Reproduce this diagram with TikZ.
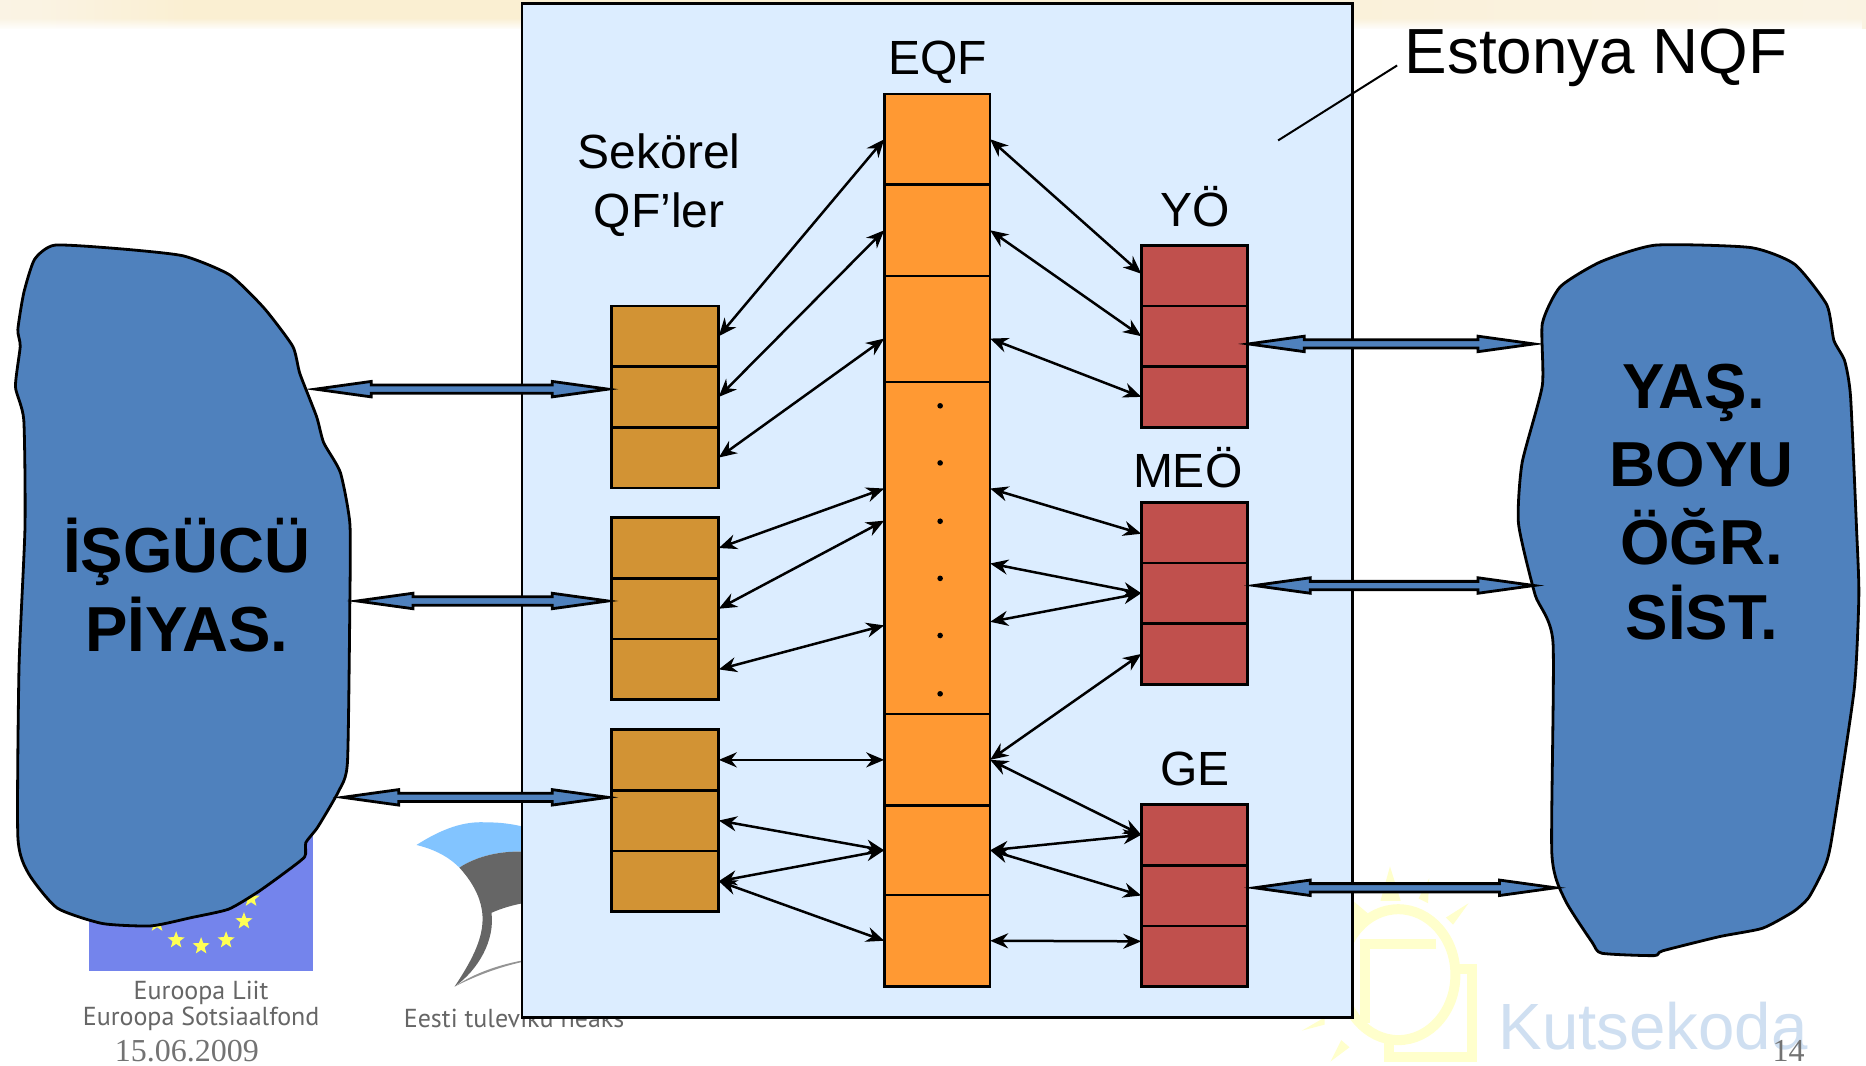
\documentclass[tikz,border=0pt]{standalone}
\usepackage{fontspec}
\setmainfont{Liberation Sans}
\newfontfamily\logofont{PT Sans}
\newfontfamily\serifnum{Liberation Serif}
\usetikzlibrary{arrows.meta,calc,shapes.geometric,fadings}
\definecolor{framefill}{HTML}{DCEDFF}
\definecolor{eqffill}{HTML}{FF9933}
\definecolor{secfill}{HTML}{D29334}
\definecolor{redfill}{HTML}{C0504D}
\definecolor{blobfill}{HTML}{4F81BD}
\definecolor{flagblue}{HTML}{7484EC}
\definecolor{staryellow}{HTML}{FFFF55}
\definecolor{logoblue}{HTML}{82C4FF}
\definecolor{logogrey}{HTML}{666666}
\definecolor{sunyellow}{HTML}{FFFFCC}
\definecolor{kutseblue}{HTML}{CFDFF1}
\definecolor{bandA}{HTML}{FDE9C4}
\definecolor{bandB}{HTML}{FCF3DC}
\definecolor{bandC}{HTML}{FDF3EA}
\definecolor{bandD}{HTML}{FAF3E3}
\definecolor{bandE}{HTML}{FAEFD2}
\definecolor{bandF}{HTML}{FBE8C5}
\pgfdeclarehorizontalshading{bandshade}{100bp}{
  color(0bp)=(bandA);
  color(6bp)=(bandB);
  color(16bp)=(bandC);
  color(26bp)=(bandD);
  color(30bp)=(bandE);
  color(50bp)=(bandE);
  color(74bp)=(bandD);
  color(90bp)=(bandE);
  color(100bp)=(bandF)}
\tikzset{
  x=0.595pt,y=-0.595pt,
  cellS/.style={draw=black,fill=secfill,line width=1.35pt,inner sep=0pt,outer sep=0pt},
  cellE/.style={draw=black,fill=eqffill,line width=1.35pt,inner sep=0pt,outer sep=0pt},
  cellR/.style={draw=black,fill=redfill,line width=1.35pt,inner sep=0pt,outer sep=0pt},
  link/.style={line width=1.25pt,{Stealth[length=9pt,width=7.5pt]}-{Stealth[length=9pt,width=7.5pt]}},
  blob/.style={draw=black,fill=blobfill,line width=1.4pt},
  blockarrow/.style={draw=black,fill=blobfill,line width=1.4pt,miter limit=20},
  lab/.style={font=\fontsize{24}{24}\selectfont,inner sep=0pt},
  bigbold/.style={font=\fontsize{31.8}{32}\selectfont\bfseries,inner sep=0pt,text=black},
  logotext/.style={font=\logofont\fontsize{13}{13}\selectfont,text=logogrey,inner sep=0pt},
  greynum/.style={font=\serifnum\fontsize{16}{16}\selectfont,text=black!55,inner sep=0pt},
  eustar/.style={star,star points=5,star point ratio=2.4,fill=staryellow,inner sep=0pt,minimum size=9pt},
  sunline/.style={draw=sunyellow,line width=5pt},
  sunray/.style={fill=sunyellow},
  eqfdot/.style={circle,fill=black,inner sep=0pt,minimum size=2.8pt}
}
\newcommand{\cellbox}[6]{%
  \pgfmathsetmacro{\cx}{(#3+#5)/2}\pgfmathsetmacro{\cy}{(#4+#6)/2}%
  \pgfmathsetmacro{\cw}{(#5-#3)*0.595}\pgfmathsetmacro{\ch}{(#6-#4)*0.595}%
  \node[#2,minimum width=\cw pt,minimum height=\ch pt] (#1) at (\cx,\cy) {};}
\newcommand{\blockarr}[2]{%
  \path[blockarrow] (#1) -- ($(#1)+(47,-6.5)$) -- ($(#1)+(47,-3.5)$) -- ($(#2)+(-47,-3.5)$) -- ($(#2)+(-47,-6.5)$)
    -- (#2) -- ($(#2)+(-47,6.5)$) -- ($(#2)+(-47,3.5)$) -- ($(#1)+(47,3.5)$) -- ($(#1)+(47,6.5)$) -- cycle;}
\begin{document}
\begin{tikzpicture}
\useasboundingbox (0,0) rectangle (1568,895);
\fill[white] (0,0) rectangle (1568,895);
% top band
\shade[shading=bandshade] (0,0) rectangle (1568,24);
\fill[white,path fading=north] (0,15) rectangle (1568,25);
% EU flag
\fill[flagblue] (75,690) rectangle (263,816);
\node[eustar] at (205,774) {};
\node[eustar] at (190,790) {};
\node[eustar] at (169,795) {};
\node[eustar] at (148,790) {};
\node[eustar] at (132,776) {};
\node[eustar] at (211,755) {};
\node[logotext] at (169,834) {Euroopa Liit};
\node[logotext] at (169,856) {Euroopa Sotsiaalfond};
% Estonian logo
\fill[logoblue] (350,710) .. controls (372,696) and (390,690) .. (408,691) .. controls (420,691) and (430,692) .. (445,696) -- (445,716) .. controls (420,714) and (400,720) .. (386,729) .. controls (375,718) and (362,713) .. (350,710) -- cycle;
\fill[logogrey] (386,729) .. controls (400,720) and (420,714) .. (445,716) -- (445,758) .. controls (432,760) and (422,763) .. (413,767) .. controls (416,790) and (402,815) .. (382,829) .. controls (398,805) and (408,785) .. (405,765) .. controls (403,752) and (396,740) .. (386,729) -- cycle;
\fill[logogrey!70] (382,829) .. controls (398,818) and (420,810) .. (445,806) -- (445,807) .. controls (420,812) and (400,820) .. (382,829) -- cycle;
\node[logotext] at (432,856) {Eesti tuleviku heaks};
% Kutsekoda logo
\draw[sunline] (1175,819) ellipse [x radius=48,y radius=55];
\draw[sunline] (1207,793) -- (1147,793) -- (1147,860);
\draw[sunline] (1167,873) -- (1167,888) -- (1237,888) -- (1237,814) -- (1222,814);
\fill[sunray] (1168,728) -- (1160,757) -- (1177,757) -- cycle;
\fill[sunray] (1201,738) -- (1192,755) -- (1200,759) -- cycle;
\fill[sunray] (1234,759) -- (1215,771) -- (1221,777) -- cycle;
\fill[sunray] (1118,892) -- (1127,874) -- (1134,880) -- cycle;
\fill[sunray] (1094,866) -- (1113,855) -- (1113,861) -- cycle;
\fill[sunray] (1137,757) -- (1150,768) -- (1137,778) -- cycle;
\node[font=\fontsize{32.7}{33}\selectfont,text=kutseblue,inner sep=0pt] at (1389,862) {Kutsekoda};
\node[greynum] at (157,883) {15.06.2009};
\node[greynum] at (1503,883) {14};
% frame
\node[draw=black,fill=framefill,line width=1.35pt,inner sep=0pt,outer sep=0pt,minimum width=415.3pt,minimum height=506.9pt] (frame) at (787.5,429) {};
% sectoral cells
\cellbox{s1a}{cellS}{514}{257}{604}{308}
\cellbox{s1b}{cellS}{514}{308}{604}{359}
\cellbox{s1c}{cellS}{514}{359}{604}{410}
\cellbox{s2a}{cellS}{514}{435}{604}{486}
\cellbox{s2b}{cellS}{514}{486}{604}{537}
\cellbox{s2c}{cellS}{514}{537}{604}{588}
\cellbox{s3a}{cellS}{514}{613}{604}{664}
\cellbox{s3b}{cellS}{514}{664}{604}{715}
\cellbox{s3c}{cellS}{514}{715}{604}{766}
% EQF cells
\cellbox{e1}{cellE}{743}{79}{832}{155}
\cellbox{e2}{cellE}{743}{155}{832}{232}
\cellbox{e3}{cellE}{743}{232}{832}{321}
\cellbox{e4}{cellE}{743}{321}{832}{600}
\cellbox{e5}{cellE}{743}{600}{832}{677}
\cellbox{e6}{cellE}{743}{677}{832}{752}
\cellbox{e7}{cellE}{743}{752}{832}{829}
\foreach \yy in {341,389,438,486,534,583} \node[eqfdot] at (790,\yy) {};
% red cells
\cellbox{y1}{cellR}{959}{206}{1048}{257}
\cellbox{y2}{cellR}{959}{257}{1048}{308}
\cellbox{y3}{cellR}{959}{308}{1048}{359}
\cellbox{m1}{cellR}{959}{422}{1048}{473}
\cellbox{m2}{cellR}{959}{473}{1048}{524}
\cellbox{m3}{cellR}{959}{524}{1048}{575}
\cellbox{g1}{cellR}{959}{676}{1048}{727}
\cellbox{g2}{cellR}{959}{727}{1048}{778}
\cellbox{g3}{cellR}{959}{778}{1048}{829}
% labels
\node[lab] (leqf) at (788,52) {EQF};
\node[lab] (lsec1) at (554,127) {Sekörel};
\node[lab] (lsec2) at (554,180) {QF’ler};
\node[lab] (lyo) at (1004,174) {YÖ};
\node[lab] (lmeo) at (998,393) {MEÖ};
\node[lab] (lge) at (1004,646) {GE};
\node[font=\fontsize{31.9}{32}\selectfont,inner sep=0pt,anchor=west] (lnqf) at (1180,49) {Estonya NQF};
\coordinate (nqfin) at (1074,118);
\draw[line width=1pt] (lnqf.west |- 0,55) ++(-6,0) -- (nqfin);
% links sectoral - EQF
\draw[link] (s1a.east) -- (e1.west);
\draw[link] (s1b.east) -- (e2.west);
\draw[link] (s1c.east) -- ([shift={(0,8)}]e3.west);
\draw[link] (s2a.east) -- ([shift={(0,-50)}]e4.west);
\draw[link] (s2b.east) -- ([shift={(0,-23)}]e4.west);
\draw[link] (s2c.east) -- ([shift={(0,65)}]e4.west);
\draw[link] (s3a.east) -- (e5.west);
\draw[link] (s3b.east) -- (e6.west);
\draw[link] (s3c.east) -- (e6.west);
\draw[link] (s3c.east) -- (e7.west);
% links EQF - red
\draw[link] (e1.east) -- ([shift={(0,-1.5)}]y1.west);
\draw[link] (e2.east) -- (y2.west);
\draw[link] ([shift={(0,8)}]e3.east) -- (y3.west);
\draw[link] ([shift={(0,-50)}]e4.east) -- ([shift={(0,1)}]m1.west);
\draw[link] ([shift={(0,13)}]e4.east) -- (m2.west);
\draw[link] ([shift={(0,62)}]e4.east) -- (m2.west);
\draw[link] (e5.east) -- (m3.west);
\draw[link] (e5.east) -- (g1.west);
\draw[link] (e6.east) -- (g1.west);
\draw[link] (e6.east) -- (g2.west);
\draw[link] (e7.east) -- ([shift={(0,-12.5)}]g3.west);
% blobs
\draw[blob] plot[smooth cycle,tension=0.35] coordinates {(46,206) (100,209) (154,215) (193,231) (222,259) (246,291) (252,314) (266,350) (272,372) (286,397) (294,440) (294,505) (292,640) (285,664) (267,695) (257,708) (256,720) (237,735) (216,750) (192,764) (161,771) (127,778) (86,776) (48,763) (24,734) (15,703) (16,560) (21,443) (20,353) (13,325) (17,291) (15,277) (20,246) (29,218)};
\draw[blob] plot[smooth cycle,tension=0.35] coordinates {(1391,206) (1471,208) (1508,222) (1535,256) (1541,286) (1550,303) (1555,333) (1560,443) (1562,500) (1558,580) (1539,706) (1533,729) (1520,754) (1507,766) (1481,780) (1445,787) (1397,799) (1390,803) (1346,801) (1338,792) (1315,756) (1304,717) (1305,540) (1290,500) (1276,440) (1279,389) (1296,324) (1296,272) (1311,241) (1345,220)};
\node[bigbold] (lab1) at (157,464) {İŞGÜCÜ};
\node[bigbold] (lab2) at (157,525) {PİYAS.};
\node[bigbold] (rb1) at (1423,330) {YAŞ.};
\node[bigbold] (rb2) at (1430,390) {BOYU};
\node[bigbold] (rb3) at (1430,451) {ÖĞR.};
\node[bigbold] (rb4) at (1430,515) {SİST.};
% block arrows
\coordinate (lbA) at (265,327); \coordinate (lbB) at (300,505); \coordinate (lbC) at (288,670);
\coordinate (s1p) at (511,327); \coordinate (s2p) at (511,505); \coordinate (s3p) at (511,670);
\coordinate (y2p) at (1049,289); \coordinate (m2p) at (1054,492); \coordinate (g2p) at (1054,746);
\coordinate (rbA) at (1289,289); \coordinate (rbB) at (1289,492); \coordinate (rbC) at (1307,746);
\blockarr{lbA}{s1p}
\blockarr{lbB}{s2p}
\blockarr{lbC}{s3p}
\blockarr{y2p}{rbA}
\blockarr{m2p}{rbB}
\blockarr{g2p}{rbC}
\end{tikzpicture}
\end{document}
